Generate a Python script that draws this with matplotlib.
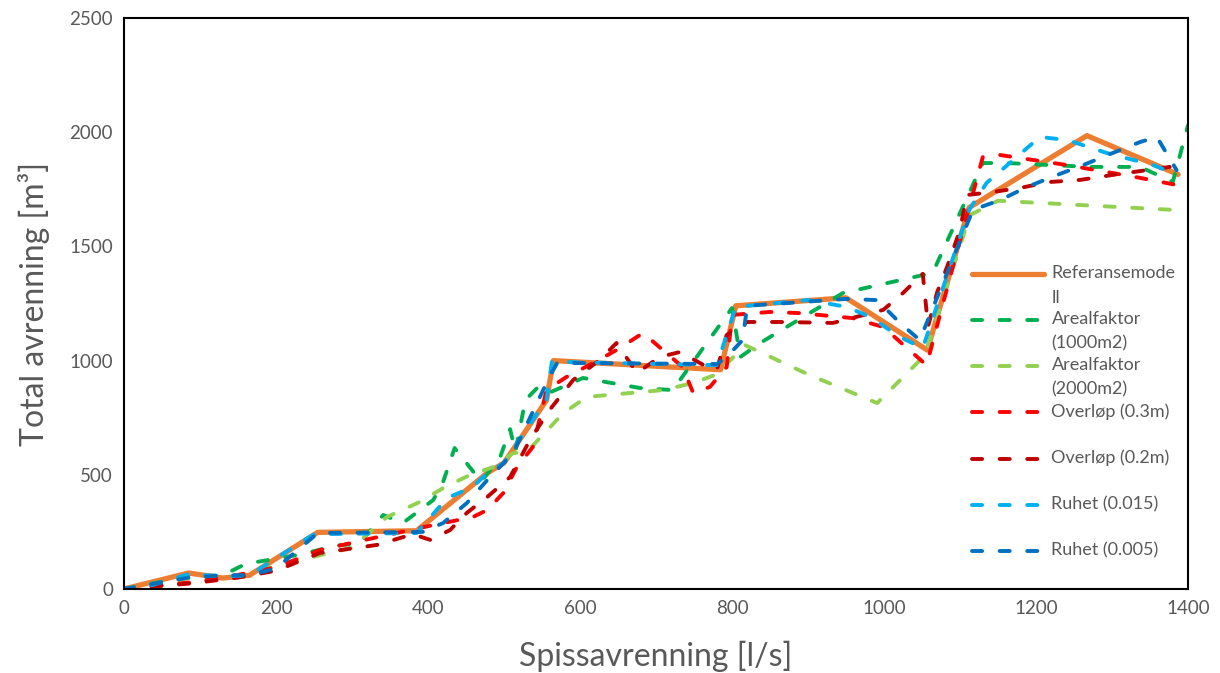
import numpy as np
import matplotlib.pyplot as plt
from matplotlib.legend_handler import HandlerLine2D

# data
ref_x = [0, 85, 130, 165, 255, 385, 478, 500, 556, 565, 785, 805, 950, 1057, 1112, 1267, 1387]
ref_y = [0, 70, 48, 60, 248, 255, 508, 552, 827, 1000, 960, 1240, 1275, 1046, 1670, 1985, 1815]

a1000_x = [0, 85, 130, 160, 230, 280, 310, 341, 367, 407, 420, 435, 470, 495, 508, 515, 528, 545, 560,
           604, 679, 722, 800, 811, 837, 946, 1064, 1130, 1162, 1271, 1337, 1380, 1400]
a1000_y = [0, 55, 60, 110, 150, 190, 200, 324, 289, 390, 470, 617, 470, 578, 700, 600, 827, 885, 860,
           924, 880, 871, 1230, 1016, 1077, 1296, 1384, 1865, 1865, 1848, 1848, 1782, 2030]

a2000_x = [0, 90, 150, 200, 260, 300, 346, 389, 420, 455, 486, 512, 530, 578, 609, 709, 749, 780, 817,
           900, 991, 1054, 1113, 1150, 1380]
a2000_y = [0, 50, 60, 100, 150, 180, 315, 381, 442, 499, 534, 595, 600, 770, 841, 871, 902, 940, 1068,
           940, 814, 1024, 1637, 1700, 1660]

o03_x = [0, 90, 140, 200, 258, 328, 407, 459, 478, 499, 517, 538, 556, 582, 617, 648, 683, 709, 735, 749,
         771, 793, 800, 850, 889, 959, 999, 1056, 1087, 1130, 1153, 1241, 1337, 1385]
o03_y = [0, 30, 55, 95, 171, 223, 280, 315, 346, 420, 534, 622, 871, 928, 989, 1046, 1121, 1046, 972, 858,
         885, 972, 1200, 1213, 1208, 1186, 1147, 980, 1366, 1891, 1900, 1856, 1800, 1769]

o02_x = [0, 90, 150, 200, 258, 333, 380, 403, 429, 451, 478, 508, 534, 560, 591, 626, 648, 675, 705, 732,
         767, 780, 793, 820, 867, 933, 999, 1025, 1051, 1058, 1070, 1083, 1100, 1109, 1143, 1179, 1218,
         1258, 1301, 1346, 1376]
o02_y = [0, 25, 50, 80, 158, 193, 240, 215, 258, 333, 403, 490, 652, 784, 915, 1003, 1077, 946, 1016, 1038,
         972, 960, 1112, 1169, 1169, 1165, 1222, 1296, 1380, 1150, 1300, 1410, 1572, 1725, 1738, 1756, 1782,
         1791, 1813, 1834, 1848]

r015_x = [0, 38, 85, 130, 165, 250, 385, 425, 459, 478, 500, 556, 563, 780, 805, 900, 951, 982, 1021, 1051,
          1112, 1135, 1170, 1205, 1241, 1293, 1354, 1387]
r015_y = [0, 18, 65, 55, 60, 240, 245, 398, 447, 508, 552, 830, 995, 980, 1235, 1265, 1235, 1191, 1103, 1055,
          1660, 1778, 1878, 1979, 1966, 1909, 1856, 1813]

r005_x = [0, 85, 130, 165, 200, 255, 393, 420, 451, 478, 512, 560, 570, 780, 793, 814, 820, 950, 991, 1021,
          1047, 1117, 1153, 1188, 1228, 1262, 1301, 1337, 1359, 1385]
r005_y = [0, 50, 60, 60, 90, 245, 250, 289, 376, 477, 595, 930, 990, 985, 1016, 1090, 1240, 1270, 1265, 1165,
          1090, 1660, 1703, 1760, 1813, 1856, 1909, 1957, 1979, 1834]

x_ticks = [0, 200, 400, 600, 800, 1000, 1200, 1400]
y_ticks = [0, 500, 1000, 1500, 2000, 2500]

plt.rcParams['font.family'] = ['Lato', 'DejaVu Sans']
grey = "#595959"


class TopLine(HandlerLine2D):
    # legend line sits on the first text line, not in the middle
    def create_artists(self, legend, orig_handle, xdescent, ydescent, width, height, fontsize, trans):
        arts = super().create_artists(legend, orig_handle, xdescent, ydescent, width, height, fontsize, trans)
        for a in arts:
            a.set_ydata(np.asarray(a.get_ydata()) + 0.64 * fontsize)
        return arts


fig = plt.figure(figsize=(12.2, 6.73), dpi=100)
ax = fig.add_axes([124 / 1220, 1 - 589 / 673, (1188 - 124) / 1220, (589 - 18) / 673])

dash = dict(lw=2.8, dashes=(2.6, 4.5), dash_capstyle="round", solid_capstyle="round")
ax.plot(ref_x, ref_y, color="#ED7D31", lw=3.8, solid_capstyle="round", solid_joinstyle="round",
        label="Referansemode\nll")
ax.plot(a1000_x, a1000_y, color="#00B050", label="Arealfaktor\n(1000m2)", **dash)
ax.plot(a2000_x, a2000_y, color="#92D050", label="Arealfaktor\n(2000m2)", **dash)
ax.plot(o03_x, o03_y, color="#FF0000", label="Overløp (0.3m)\n ", **dash)
ax.plot(o02_x, o02_y, color="#C00000", label="Overløp (0.2m)\n ", **dash)
ax.plot(r015_x, r015_y, color="#00B0F0", label="Ruhet (0.015)\n ", **dash)
ax.plot(r005_x, r005_y, color="#0070C0", label="Ruhet (0.005)\n ", **dash)

ax.set_xlim(0, 1400)
ax.set_ylim(0, 2500)
ax.set_xticks(x_ticks)
ax.set_yticks(y_ticks)
ax.tick_params(length=0, labelsize=13.5, colors=grey, pad=8)
for s in ax.spines.values():
    s.set_color("black")
    s.set_linewidth(1.5)

ax.set_xlabel("Spissavrenning [l/s]", fontsize=23, color=grey, labelpad=17)
ax.set_ylabel("Total avrenning [m³]", fontsize=23, color=grey, labelpad=14)

leg = ax.legend(loc="upper left", bbox_to_anchor=(0.797, 0.567), frameon=False, fontsize=13,
                handlelength=4.0, handletextpad=0.4, labelspacing=0.3, borderpad=0, borderaxespad=0,
                handler_map={plt.Line2D: TopLine()})
for t in leg.get_texts():
    t.set_color(grey)
    t.set_linespacing(1.65)

fig.savefig("out.png", dpi=100)
